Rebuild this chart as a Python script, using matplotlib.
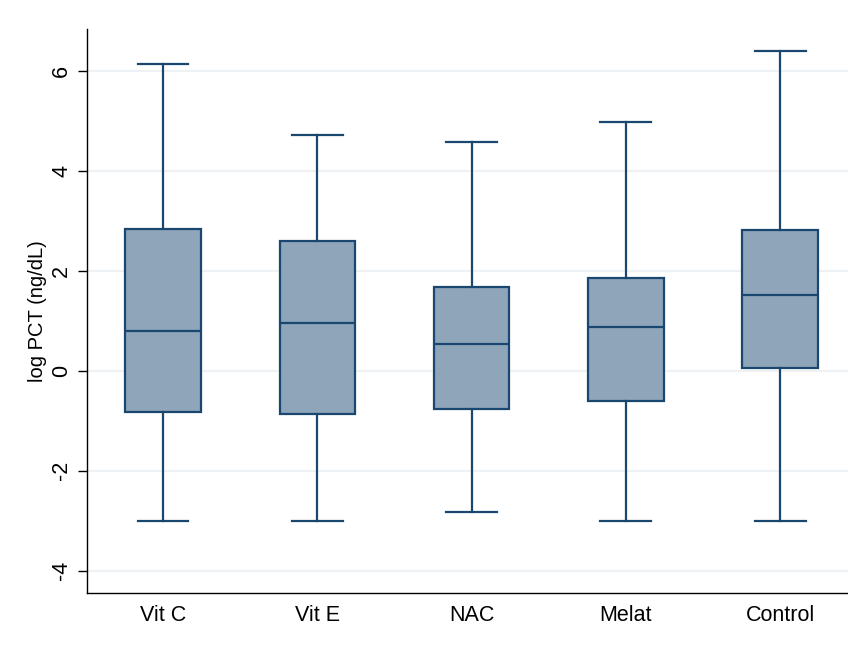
import matplotlib
matplotlib.use('Agg')
import matplotlib.pyplot as plt

plt.rcParams['font.family'] = ['Liberation Sans', 'DejaVu Sans']
plt.rcParams['axes.unicode_minus'] = False

# summary values per group (log PCT, ng/dL)
groups  = ['Vit C', 'Vit E', 'NAC', 'Melat', 'Control']
whis_lo = [-3.00, -3.00, -2.83, -3.00, -3.00]
q1      = [-0.82, -0.86, -0.76, -0.60,  0.06]
median  = [ 0.80,  0.96,  0.54,  0.88,  1.52]
q3      = [ 2.83,  2.59,  1.68,  1.86,  2.81]
whis_hi = [ 6.13,  4.71,  4.57,  4.97,  6.39]

navy = '#1a476f'
fill = '#8ea5ba'

stats = []
for i in range(len(groups)):
    stats.append(dict(label=groups[i], whislo=whis_lo[i], q1=q1[i],
                      med=median[i], q3=q3[i], whishi=whis_hi[i], fliers=[]))

fig = plt.figure(figsize=(8.48, 6.46), dpi=100)
ax = fig.add_axes([0.1022, 0.0825, 0.8978, 0.8721])

lw = 1.6
ax.bxp(stats, positions=range(1, 6), widths=0.49, patch_artist=True,
       showfliers=False,
       boxprops=dict(facecolor=fill, edgecolor=navy, linewidth=lw),
       medianprops=dict(color=navy, linewidth=lw),
       whiskerprops=dict(color=navy, linewidth=lw),
       capprops=dict(color=navy, linewidth=lw),
       capwidths=0.33, zorder=3)

ax.set_xlim(0.505, 5.44)
ax.set_ylim(-4.44, 6.83)
ax.set_yticks([-4, -2, 0, 2, 4, 6])
ax.yaxis.grid(True, color='#eef2f4', linewidth=1.6, zorder=0)
ax.set_axisbelow(True)

for side in ['top', 'right']:
    ax.spines[side].set_visible(False)
for side in ['left', 'bottom']:
    ax.spines[side].set_linewidth(1.0)

ax.tick_params(axis='y', length=6.5, width=1, labelsize=15.5, pad=4)
ax.tick_params(axis='x', length=0, labelsize=15.5, pad=9)
for lab in ax.get_yticklabels():
    lab.set_rotation(90)
    lab.set_va('center')

ax.set_ylabel('log PCT (ng/dL)', fontsize=14.5, labelpad=3)

plt.savefig('out.png', dpi=100)
plt.close()
